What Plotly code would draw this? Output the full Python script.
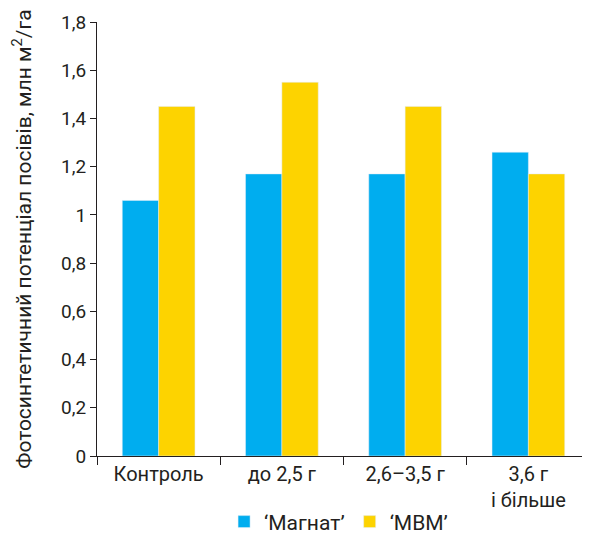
import plotly.graph_objects as go

categories = ["Контроль", "до 2,5 г", "2,6–3,5 г", "3,6 г<br>і більше"]
magnat = [1.06, 1.17, 1.17, 1.26]
mvm = [1.45, 1.55, 1.45, 1.17]
y_tickvals = [0, 0.2, 0.4, 0.6, 0.8, 1.0, 1.2, 1.4, 1.6, 1.8]
y_ticktext = ["0", "0,2", "0,4", "0,6", "0,8", "1", "1,2", "1,4", "1,6", "1,8"]

FONT = "Roboto, Arial, sans-serif"

fig = go.Figure()
fig.add_trace(go.Bar(x=categories, y=magnat, name="‘Магнат’", marker_color="#00ADEF"))
fig.add_trace(go.Bar(x=categories, y=mvm, name="‘МВМ’", marker_color="#FDD300"))

fig.update_layout(
    width=582, height=527,
    margin=dict(l=89, r=0, t=14, b=79, autoexpand=False),
    paper_bgcolor="white", plot_bgcolor="white",
    barmode="group", bargap=0.41, bargroupgap=0,
    font=dict(family=FONT, size=18, color="#231F20"),
    showlegend=True,
    legend=dict(orientation="h", x=0.49, xanchor="center", y=-0.152, yanchor="middle",
                font=dict(size=21), itemwidth=30, traceorder="normal"),
    xaxis=dict(showline=True, linecolor="#231F20", linewidth=1, automargin=False,
               ticks="outside", tickson="boundaries", ticklen=8, tickcolor="#231F20",
               showgrid=False, tickfont=dict(size=20)),
    yaxis=dict(range=[0, 1.8], tickvals=y_tickvals, ticktext=y_ticktext, automargin=False,
               showline=True, linecolor="#231F20", linewidth=1,
               ticks="outside", ticklen=6, tickcolor="#231F20",
               showgrid=False, zeroline=False, tickfont=dict(size=19),
               title=dict(text="Фотосинтетичний потенціал посівів, млн м<sup>2</sup>/га",
                          font=dict(size=21), standoff=30)),
)

fig.write_html("out.html")
